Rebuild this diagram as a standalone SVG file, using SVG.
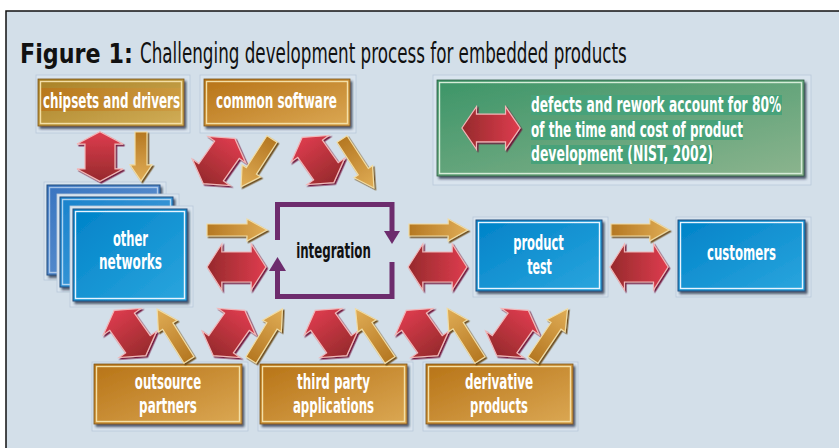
<svg xmlns="http://www.w3.org/2000/svg" xmlns:xlink="http://www.w3.org/1999/xlink" width="839" height="448" viewBox="0 0 839 448">
<style>
.t{font-family:"Liberation Sans Narrow","DejaVu Sans Condensed","DejaVu Sans","Liberation Sans",sans-serif;font-weight:bold;fill:#fff;text-anchor:middle}
.tl{text-anchor:start}
.ink{fill:#111}
.title{font-family:"Liberation Sans Narrow","DejaVu Sans Condensed","DejaVu Sans","Liberation Sans",sans-serif;fill:#111;font-size:28px}
.fig{font-family:"DejaVu Sans","Liberation Sans",sans-serif;font-weight:900;fill:#111;font-size:27px}
.frame{fill:#d9e4ee;stroke:#b9c9d9;stroke-width:0.8}
.gold{fill:url(#gGold);stroke:#7a5418;stroke-width:0.8}
.olive{fill:url(#gOlive);stroke:#7a5418;stroke-width:0.8}
.blue{fill:url(#gBlue);stroke:#254e80;stroke-width:1}
.steel{fill:url(#gSteel);stroke:#254e80;stroke-width:1}
.blue2{fill:url(#gBlue2);stroke:#254e80;stroke-width:1}
.green{fill:url(#gGreen);stroke:#2e5e44;stroke-width:0.8}
.inG{fill:none;stroke:#f3dfa6;stroke-width:1.4}
.inB{fill:none;stroke:#e8f4ff;stroke-width:1.4}
.inN{fill:none;stroke:#d6ecd8;stroke-width:1.4}
.red{fill:url(#gRed);stroke:#f2b6b8;stroke-width:1.2}
.ga{fill:url(#gGA);stroke:#f1dca4;stroke-width:1.2}
.pur{fill:none;stroke:#6d2c6d;stroke-width:5}
</style>
<defs>
<linearGradient id="gGold" x1="0" y1="0" x2="1" y2="1"><stop offset="0" stop-color="#b77316"/><stop offset="1" stop-color="#dba854"/></linearGradient>
<linearGradient id="gOlive" x1="0" y1="0" x2="1" y2="1"><stop offset="0" stop-color="#a88126"/><stop offset="1" stop-color="#d2ae58"/></linearGradient>
<linearGradient id="gBand" x1="0" y1="0" x2="1" y2="0"><stop offset="0" stop-color="#bb7418"/><stop offset="1" stop-color="#cd9a40"/></linearGradient>
<linearGradient id="gBlue" x1="0" y1="0" x2="1" y2="1"><stop offset="0" stop-color="#0082c8"/><stop offset="1" stop-color="#2ba6de"/></linearGradient>
<linearGradient id="gSteel" x1="0" y1="0" x2="1" y2="1"><stop offset="0" stop-color="#3874c0"/><stop offset="1" stop-color="#6a9ad4"/></linearGradient>
<linearGradient id="gBlue2" x1="0" y1="0" x2="1" y2="1"><stop offset="0" stop-color="#1a82cc"/><stop offset="1" stop-color="#48a2dc"/></linearGradient>
<linearGradient id="gGreen" x1="0" y1="0" x2="1" y2="1"><stop offset="0" stop-color="#3c9568"/><stop offset="1" stop-color="#8cb48e"/></linearGradient>
<linearGradient id="gRed" x1="0" y1="0" x2="1" y2="0"><stop offset="0" stop-color="#962a2c"/><stop offset="1" stop-color="#de3c4e"/></linearGradient>
<linearGradient id="gGA" x1="0" y1="0" x2="1" y2="0"><stop offset="0" stop-color="#b57822"/><stop offset="1" stop-color="#e0ad56"/></linearGradient>
<filter id="boxSh" x="-10%" y="-10%" width="130%" height="130%"><feDropShadow dx="2" dy="2.5" stdDeviation="1" flood-color="#1c2a3c" flood-opacity="0.75"/></filter>
<filter id="redSh" x="-10%" y="-10%" width="120%" height="120%"><feDropShadow dx="1.5" dy="1.5" stdDeviation="0.4" flood-color="#6e0f34" flood-opacity="0.95"/></filter>
<filter id="goldSh" x="-10%" y="-10%" width="120%" height="120%"><feDropShadow dx="1.5" dy="1.5" stdDeviation="0.4" flood-color="#6a4a18" flood-opacity="0.95"/></filter>
<polygon id="dbl" class="red" vector-effect="non-scaling-stroke" points="-30,0 -15,-23 -15,-15 15,-15 15,-23 30,0 15,23 15,15 -15,15 -15,23"/>
<polygon id="one" class="ga" vector-effect="non-scaling-stroke" points="0,-6 40,-6 40,-11 60,0 40,11 40,6 0,6"/>
</defs>

<rect x="6" y="11" width="840" height="442" fill="#d3dfe9" stroke="#111" stroke-width="1.5"/>

<g id="title">
<text class="fig" transform="translate(20,63) scale(0.8,1)" textLength="141" lengthAdjust="spacingAndGlyphs">Figure 1:</text>
<text class="title" transform="translate(140,63) scale(0.65,1)" textLength="749" lengthAdjust="spacingAndGlyphs">Challenging development process for embedded products</text>
</g>

<g id="chipsets">
<rect class="frame" x="36" y="75" width="154" height="58"/>
<rect class="olive" x="38" y="79" width="146" height="47" filter="url(#boxSh)"/>
<rect x="41" y="88" width="141" height="23" fill="url(#gBand)" opacity="0.8"/>
<rect class="inG" x="40.5" y="81.5" width="141" height="42"/>
<text class="t" font-size="22" transform="translate(111.5,108) scale(0.65,1)" textLength="211" lengthAdjust="spacingAndGlyphs">chipsets and drivers</text>
</g>

<g id="common-software">
<rect class="frame" x="200" y="75" width="156" height="58"/>
<rect class="gold" x="204" y="79" width="146" height="47" filter="url(#boxSh)"/>
<rect class="inG" x="206.5" y="81.5" width="141" height="42"/>
<text class="t" font-size="22" transform="translate(276.5,108) scale(0.65,1)" textLength="186" lengthAdjust="spacingAndGlyphs">common software</text>
</g>

<g id="legend">
<rect class="frame" x="433" y="75" width="378" height="110"/>
<rect class="green" x="437" y="80" width="367" height="96" filter="url(#boxSh)"/>
<rect class="inN" x="439.5" y="82.5" width="362" height="91"/>
<rect x="531" y="95" width="251" height="20" fill="#47a27a"/>
<rect x="531" y="120" width="212" height="20" fill="#47a27a"/>
<rect x="531" y="145" width="182" height="19" fill="#47a27a"/>
<g filter="url(#redSh)"><use href="#dbl" transform="translate(491,128) scale(0.97,0.93)"/></g>
<text class="t tl" font-size="21" transform="translate(531,112) scale(0.65,1)" textLength="385" lengthAdjust="spacingAndGlyphs">defects and rework account for 80%</text>
<text class="t tl" font-size="21" transform="translate(531,137) scale(0.65,1)" textLength="326" lengthAdjust="spacingAndGlyphs">of the time and cost of product</text>
<text class="t tl" font-size="21" transform="translate(531,161) scale(0.65,1)" textLength="280" lengthAdjust="spacingAndGlyphs">development (NIST, 2002)</text>
</g>

<g id="other-networks">
<rect class="frame" x="44" y="182" width="122" height="98"/>
<rect class="steel" x="47" y="185" width="113" height="90" filter="url(#boxSh)"/>
<rect class="inB" x="49.5" y="187.5" width="108" height="85" opacity="0.6"/>
<rect class="frame" x="57" y="194" width="122" height="98"/>
<rect class="blue2" x="60" y="197" width="113" height="90" filter="url(#boxSh)"/>
<rect class="inB" x="62.5" y="199.5" width="108" height="85" opacity="0.7"/>
<rect class="frame" x="70" y="206" width="123" height="101"/>
<rect class="blue" x="73" y="209" width="114" height="92" filter="url(#boxSh)"/>
<rect class="inB" x="75.5" y="211.5" width="109" height="87"/>
<text class="t" font-size="21" transform="translate(130.5,246) scale(0.65,1)" textLength="54" lengthAdjust="spacingAndGlyphs">other</text>
<text class="t" font-size="21" transform="translate(130.5,269) scale(0.65,1)" textLength="97" lengthAdjust="spacingAndGlyphs">networks</text>
</g>

<g id="integration">
<path class="pur" d="M277.5,240 V204.5 H392 V232"/>
<polygon fill="#6d2c6d" points="384,231 400,231 392,244"/>
<path class="pur" d="M392,262 V296.5 H277.5 V270"/>
<polygon fill="#6d2c6d" points="269,271 286,271 277.5,257"/>
<text class="t ink" font-size="22" transform="translate(333.5,258) scale(0.65,1)" textLength="115" lengthAdjust="spacingAndGlyphs">integration</text>
</g>

<g id="product-test">
<rect class="frame" x="473" y="217" width="135" height="80"/>
<rect class="blue" x="476" y="220" width="126" height="71" filter="url(#boxSh)"/>
<rect class="inB" x="478.5" y="222.5" width="121" height="66"/>
<text class="t" font-size="21" transform="translate(538.5,250) scale(0.65,1)" textLength="78" lengthAdjust="spacingAndGlyphs">product</text>
<text class="t" font-size="21" transform="translate(539.5,274) scale(0.65,1)" textLength="38" lengthAdjust="spacingAndGlyphs">test</text>
</g>

<g id="customers">
<rect class="frame" x="676" y="217" width="135" height="80"/>
<rect class="blue" x="678" y="220" width="127" height="71" filter="url(#boxSh)"/>
<rect class="inB" x="680.5" y="222.5" width="122" height="66"/>
<text class="t" font-size="21" transform="translate(741.5,260) scale(0.65,1)" textLength="106" lengthAdjust="spacingAndGlyphs">customers</text>
</g>

<g id="outsource-partners">
<rect class="frame" x="92" y="362" width="156" height="69"/>
<rect class="gold" x="94" y="364" width="148" height="60" filter="url(#boxSh)"/>
<rect class="inG" x="96.5" y="366.5" width="143" height="55"/>
<text class="t" font-size="21" transform="translate(168,389) scale(0.65,1)" textLength="102" lengthAdjust="spacingAndGlyphs">outsource</text>
<text class="t" font-size="21" transform="translate(168,413) scale(0.65,1)" textLength="89" lengthAdjust="spacingAndGlyphs">partners</text>
</g>

<g id="third-party-applications">
<rect class="frame" x="258" y="362" width="155" height="69"/>
<rect class="gold" x="260" y="364" width="147" height="60" filter="url(#boxSh)"/>
<rect class="inG" x="262.5" y="366.5" width="142" height="55"/>
<text class="t" font-size="21" transform="translate(333.5,389) scale(0.65,1)" textLength="112" lengthAdjust="spacingAndGlyphs">third party</text>
<text class="t" font-size="21" transform="translate(333.5,413) scale(0.65,1)" textLength="125" lengthAdjust="spacingAndGlyphs">applications</text>
</g>

<g id="derivative-products">
<rect class="frame" x="423" y="362" width="155" height="69"/>
<rect class="gold" x="426" y="364" width="147" height="60" filter="url(#boxSh)"/>
<rect class="inG" x="428.5" y="366.5" width="142" height="55"/>
<text class="t" font-size="21" transform="translate(499,389) scale(0.65,1)" textLength="105" lengthAdjust="spacingAndGlyphs">derivative</text>
<text class="t" font-size="21" transform="translate(499,413) scale(0.65,1)" textLength="89" lengthAdjust="spacingAndGlyphs">products</text>
</g>

<g id="connectors">
<g filter="url(#redSh)">
<use href="#dbl" transform="translate(100,156.5) rotate(-90) scale(0.83,1)"/>
<use href="#dbl" transform="translate(219,161) rotate(-55) scale(0.92,1)"/>
<use href="#dbl" transform="translate(318,160) rotate(-125) scale(0.92,1)"/>
<use href="#dbl" transform="translate(236.5,267) scale(0.98,1)"/>
<use href="#dbl" transform="translate(437.5,267) scale(0.98,1)"/>
<use href="#dbl" transform="translate(639,267) scale(0.97,1)"/>
<use href="#dbl" transform="translate(130,333) rotate(-125) scale(0.92,1)"/>
<use href="#dbl" transform="translate(229,333) rotate(-55) scale(0.92,1)"/>
<use href="#dbl" transform="translate(331,333) rotate(-125) scale(0.92,1)"/>
<use href="#dbl" transform="translate(422,333) rotate(-125) scale(0.92,1)"/>
<use href="#dbl" transform="translate(512.5,333) rotate(-55) scale(0.92,1)"/>
</g>
<g filter="url(#goldSh)">
<use href="#one" transform="translate(141,132) rotate(90) scale(0.82,1)"/>
<use href="#one" transform="translate(272,139) rotate(122.9) scale(0.95,1)"/>
<use href="#one" transform="translate(342,139) rotate(56.9) scale(0.975,1)"/>
<use href="#one" transform="translate(207,230)"/>
<use href="#one" transform="translate(409,230) scale(0.98,1)"/>
<use href="#one" transform="translate(611,230) scale(0.97,1)"/>
<use href="#one" transform="translate(189,360) rotate(-122.1)"/>
<use href="#one" transform="translate(251,360) rotate(-58.4)"/>
<use href="#one" transform="translate(390,360) rotate(-124) scale(1.03,1)"/>
<use href="#one" transform="translate(480,360) rotate(-122.4) scale(1.02,1)"/>
<use href="#one" transform="translate(533,360) rotate(-56) scale(1.03,1)"/>
</g>
</g>
</svg>
